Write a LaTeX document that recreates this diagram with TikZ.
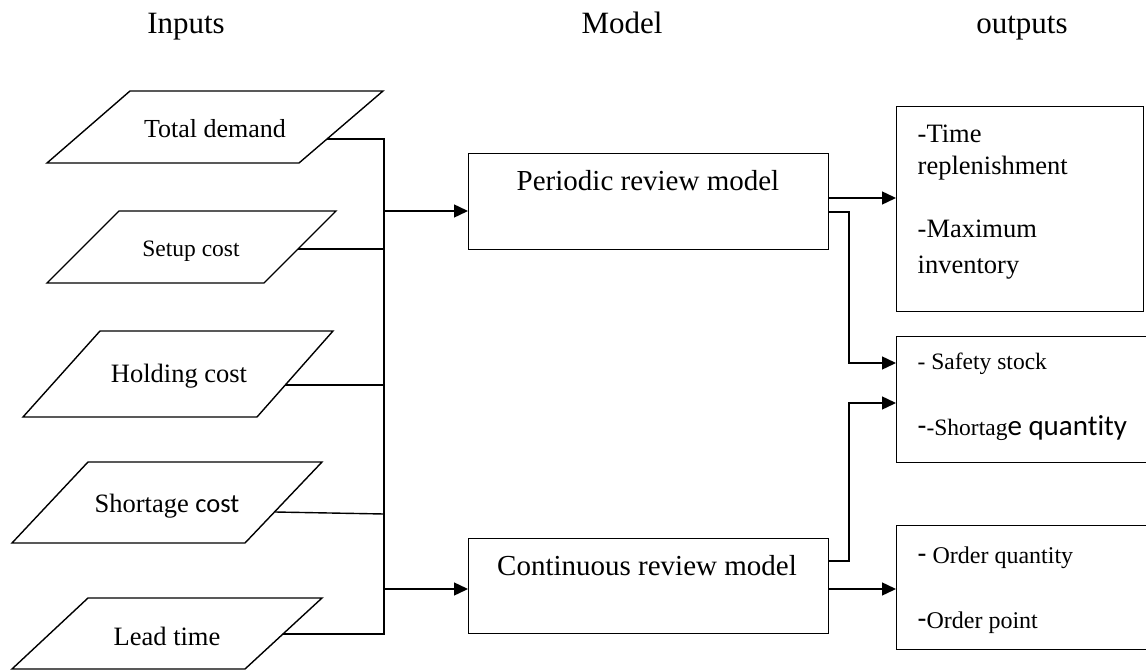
\documentclass[tikz,border=0pt]{standalone}
\usepackage{fontspec}
\setmainfont{Liberation Serif}
\newfontfamily\calib[Ligatures=NoCommon]{Carlito}
\usetikzlibrary{arrows.meta}
\begin{document}
\begin{tikzpicture}[x=1pt,y=-1pt,line width=1.4pt,
  arr/.style={-{Triangle[length=14pt,width=13pt]}},
  txt/.style={inner sep=0pt,anchor=base},
  ltxt/.style={inner sep=0pt,anchor=base west},
  boxn/.style={draw,anchor=north west,inner sep=0pt},
  fs/.style={font=\fontsize{#1}{#1}\selectfont}]
\clip (0,0) rectangle (1146,671);
\fill[white] (0,0) rectangle (1146,671);

% headers
\node[txt,fs=31] (hin) at (186,34) {Inputs};
\node[txt,fs=31] (hmod) at (622,34) {Model};
\node[txt,fs=31] (hout) at (1022,34) {outputs};

% input parallelograms
\draw (130,91) -- (383,91) -- (299,163) -- (47,163) -- cycle;
\node[txt,fs=26] (i1) at (215,138) {Total demand};
\coordinate (p1) at (327,139);

\draw (119,211) -- (336,211) -- (264,283) -- (47,283) -- cycle;
\node[txt,fs=23.5] (i2) at (191,256) {Setup cost};
\coordinate (p2) at (298,249);

\draw (100,331) -- (333,331) -- (257,417) -- (23,417) -- cycle;
\node[txt,fs=26.5] (i3) at (179,382) {Holding cost};
\coordinate (p3) at (285,385);

\draw (88,462) -- (322,462) -- (245,543) -- (12,543) -- cycle;
\node[txt,fs=26.5] (i4) at (167,512) {Shortage {\calib cost}};
\coordinate (p4) at (275,512);

\draw (88,598) -- (322,598) -- (245,669) -- (12,669) -- cycle;
\node[txt,fs=26.5] (i5) at (167,645) {Lead time};
\coordinate (p5) at (283,634);

% bus
\coordinate (bt) at (384,139);
\coordinate (bb) at (384,634);
\coordinate (b2) at (384,249);
\coordinate (b3) at (384,385);
\coordinate (b4) at (384,514);
\coordinate (bper) at (384,211);
\coordinate (bcon) at (384,589);
\draw (p1) -- (bt) -- (bb) -- (p5);
\draw (p2) -- (b2);
\draw (p3) -- (b3);
\draw (p4) -- (b4);

% model boxes
\node[boxn,minimum width=360pt,minimum height=96pt] (per) at (468,153) {};
\node[txt,fs=29] (pertxt) at (648,191) {Periodic review model};
\node[boxn,minimum width=360pt,minimum height=95pt] (con) at (468,538) {};
\node[txt,fs=29] (contxt) at (647,575) {Continuous review model};

\draw[arr] (bper) -- (per.west |- bper);
\draw[arr] (bcon) -- (con.west |- bcon);

% output boxes
\node[boxn,minimum width=247pt,minimum height=205pt] (o1) at (896,106) {};
\node[boxn,minimum width=270pt,minimum height=126pt] (o2) at (896,336) {};
\node[boxn,minimum width=270pt,minimum height=124pt] (o3) at (896,525) {};

\node[ltxt,fs=26.5] (o1a) at (917,143) {-Time};
\node[ltxt,fs=26.5] (o1b) at (917,175) {replenishment};
\node[ltxt,fs=26.5] (o1c) at (917,238) {-Maximum};
\node[ltxt,fs=26.5] (o1d) at (917,273) {inventory};

\node[ltxt,fs=23.5] (o2a) at (917,369) {- Safety stock};
\node[ltxt,fs=23.5] (o2b) at (917,435) {{\calib\fontsize{29}{29}\selectfont -}-Shortag{\calib\fontsize{29}{29}\selectfont e quantity}};

\node[ltxt,fs=24] (o3a) at (917,563) {{\calib\fontsize{29}{29}\selectfont -} Order quantity};
\node[ltxt,fs=24] (o3b) at (917,628) {{\calib\fontsize{29}{29}\selectfont -}Order point};

% model to outputs
\coordinate (a1) at (828,198);
\coordinate (a2) at (828,212);
\coordinate (k1) at (849,212);
\coordinate (k2) at (849,363);
\draw[arr] (a1) -- (o1.west |- a1);
\draw[arr] (a2) -- (k1) -- (k2) -- (o2.west |- k2);

\coordinate (c1) at (828,561);
\coordinate (c2) at (828,589);
\coordinate (k3) at (849,561);
\coordinate (k4) at (849,403);
\draw[arr] (c1) -- (k3) -- (k4) -- (o2.west |- k4);
\draw[arr] (c2) -- (o3.west |- c2);
\end{tikzpicture}
\end{document}
